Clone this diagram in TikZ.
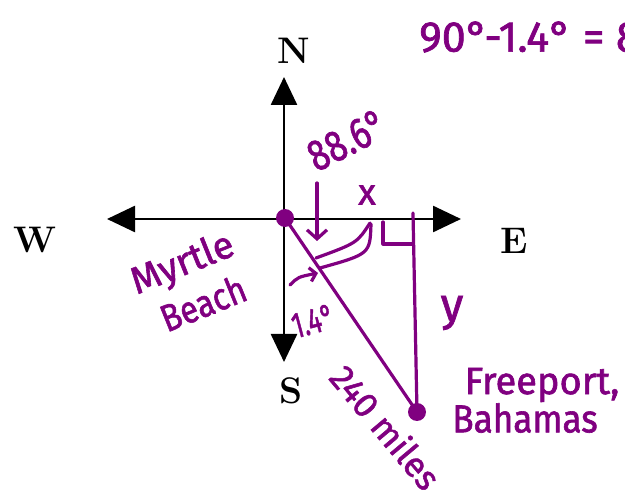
\documentclass[tikz,border=0pt]{standalone}
\usepackage{fontspec}
\usepackage{graphicx}
\newfontfamily\hand{Fira Sans}[FakeBold=1.6,AutoFakeBold=1.6]
\usetikzlibrary{arrows.meta}
\definecolor{hand}{RGB}{128,0,128}
\begin{document}
\begin{tikzpicture}[x=1pt,y=-1pt,
  axis/.style={line width=2.6pt, black, {Triangle[length=28pt,width=26pt]}-{Triangle[length=28pt,width=26pt]}},
  pline/.style={hand, line width=3.2pt, line cap=round, line join=round},
  dirlabel/.style={font=\fontsize{37}{40}\selectfont\bfseries, inner sep=0pt},
  htext/.style={hand, font=\hand\bfseries\fontsize{36}{40}\selectfont, inner sep=0pt},
  city/.style={circle, fill=hand, minimum size=18pt, inner sep=0pt}
]
\useasboundingbox (0,0) rectangle (625,500);
\clip (0,0) rectangle (625,500);

% compass
\coordinate (Wt) at (107,219);
\coordinate (Et) at (461,219);
\coordinate (Nt) at (284,77);
\coordinate (St) at (284,362);
\draw[axis] (Wt) -- (Et);
\draw[axis] (St) -- (Nt);
\node[dirlabel] (N) at (294,51) {N};
\node[dirlabel] (W) at (35,240) {W};
\node[dirlabel] (E) at (514,241) {E};
\node[dirlabel] (S) at (291,391) {S};

% triangle
\node[city] (mb) at (285,218) {};
\node[city] (fp) at (417,412) {};
\coordinate (vt) at (413,213);
\draw[pline] (mb.center) -- (fp.center);
\draw[pline] (vt) -- (fp.center);
\draw[pline] (383,222) -- (383,244) -- (413,244);

% angle marks
\draw[pline] (370,223) .. controls (357,243) .. (316,258);
\draw[pline] (371,224) .. controls (370,254) .. (320,268);
\draw[pline, -{Straight Barb[length=9pt,width=20pt]}] (317,183) -- (317,241);
\draw[pline, -{Straight Barb[length=6pt,width=14pt]}] (290,285) .. controls (298,277) .. (318,273);

% texts
\node[htext, rotate=27] (a886) at (347,140) {\scalebox{0.8}[1]{\fontsize{44}{48}\selectfont 88.6°}};
\node[htext] (xlab) at (367,195) {x};
\node[htext, rotate=15] (a14) at (313,321) {\scalebox{0.7}[1]{\fontsize{36}{40}\selectfont 1.4°}};
\node[htext, rotate=22] (myr) at (183,265) {\fontsize{38}{40}\selectfont Myrtle};
\node[htext, rotate=22] (bch) at (203,303) {\scalebox{0.85}[1]{\fontsize{38}{40}\selectfont Beach}};
\node[htext] (ylab) at (452,313) {\fontsize{46}{50}\selectfont y};
\node[htext, rotate=-50] (dist) at (386,427) {\fontsize{35}{40}\selectfont 240 miles};
\node[htext] (fr1) at (542,385) {\fontsize{38}{40}\selectfont Freeport,};
\node[htext] (fr2) at (525,418) {\scalebox{0.9}[1]{\fontsize{39}{42}\selectfont Bahamas}};
\node[htext, anchor=west] (eq) at (419,37) {\fontsize{43}{46}\selectfont 90°-1.4° = 8};
\end{tikzpicture}
\end{document}
